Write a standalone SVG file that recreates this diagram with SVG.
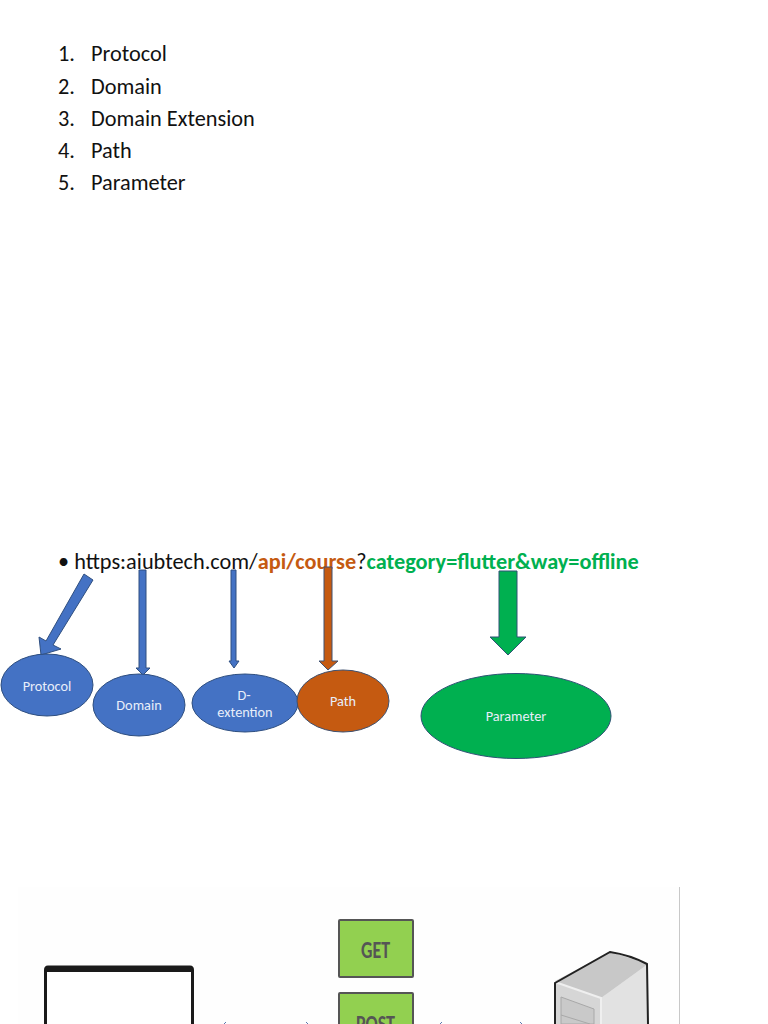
<svg xmlns="http://www.w3.org/2000/svg" width="768" height="1024" viewBox="0 0 768 1024">
<style>
text{font-family:"Carlito","Lato","Liberation Sans",sans-serif}
.l{font-size:22.3px;fill:#111}
.u{font-size:22.3px}
.n{font-size:14.3px;fill:#e8eefa;text-anchor:middle}
.bl{fill:#4472c4;stroke:#2f4f80;stroke-width:1}
.or{fill:#c55a11;stroke:#3f5170;stroke-width:1}
.gr{fill:#00b050;stroke:#2f5275;stroke-width:1}
.btn{fill:#92d050;stroke:#555;stroke-width:2}
.bt{font-size:25px;font-weight:bold;fill:#555;text-anchor:middle}
.tick{fill:none;stroke:#5a78b0;stroke-width:1}
</style>
<rect width="768" height="1024" fill="#fff"/>
<g id="list">
<text class="l" x="58" y="61">1.</text><text class="l" x="91" y="61">Protocol</text>
<text class="l" x="58" y="94">2.</text><text class="l" x="91" y="94">Domain</text>
<text class="l" x="58" y="126">3.</text><text class="l" x="91" y="126">Domain Extension</text>
<text class="l" x="58" y="158">4.</text><text class="l" x="91" y="158">Path</text>
<text class="l" x="58" y="190">5.</text><text class="l" x="91" y="190">Parameter</text>
</g>
<g id="url"><text class="u" x="58" y="569" fill="#111">• https:aiubtech.com/<tspan fill="#c55a11" font-weight="bold">api/course</tspan>?<tspan fill="#00b050" font-weight="bold">category=flutter&amp;way=offline</tspan></text></g>
<g id="connectors">
<polygon class="bl" points="84,574 93,580 53,645 61,649 41,655 39,637 46,641"/>
<polygon class="bl" points="139,570 146,570 146,668 150,668 143,675 136,668 139,668"/>
<polygon class="bl" points="231,570 236,570 236,661 239,661 234,668 229,661 231,661"/>
<polygon class="or" points="324,567 332,567 332,661 338,661 328,670 319,661 324,661"/>
<polygon class="gr" points="499,571 517,571 517,637 526,637 508,655 490,637 499,637"/>
</g>
<g id="protocol"><ellipse class="bl" cx="47" cy="685" rx="46" ry="31"/><text class="n" x="47" y="691">Protocol</text></g>
<g id="domain"><ellipse class="bl" cx="139" cy="705" rx="46" ry="31"/><text class="n" x="139" y="710">Domain</text></g>
<g id="d-extention"><ellipse class="bl" cx="245" cy="703" rx="53" ry="29"/><text class="n" x="244" y="700">D-</text><text class="n" x="245" y="717">extention</text></g>
<g id="path"><ellipse class="or" cx="343" cy="701" rx="46" ry="31"/><text class="n" x="343" y="706">Path</text></g>
<g id="parameter"><ellipse class="gr" cx="516" cy="716" rx="95" ry="42.5"/><text class="n" x="516" y="721">Parameter</text></g>
<g id="picture">
<rect x="18" y="887" width="662" height="137" fill="#fefefe"/>
<path d="M679.5 887V1024" stroke="#c8c8c8" fill="none"/>
<path d="M45.500 1024V970Q45.500 967 48 967H190Q192.500 967 192.500 970V1024" fill="#fff" stroke="#1a1a1a" stroke-width="3"/>
<path d="M46 969.500H192" stroke="#1a1a1a" stroke-width="5"/>
<g id="get"><rect class="btn" x="339" y="920" width="74" height="57" rx="1"/><text class="bt" x="375.500" y="958" textLength="29" lengthAdjust="spacingAndGlyphs">GET</text></g>
<g id="post"><rect class="btn" x="339" y="993" width="74" height="57" rx="1"/><text class="bt" x="375.500" y="1032" textLength="39" lengthAdjust="spacingAndGlyphs">POST</text></g>
<g id="server">
<polygon points="555,981 610,952 648,964 648,1024 555,1024" fill="#d6d6d6"/>
<polygon points="555,982 610,952 648,964 601,998" fill="#c8c8c8"/>
<polygon points="601,998 648,964 648,1024 601,1024" fill="#e2e2e2"/>
<path d="M555 982L601 998V1024" fill="none" stroke="#efefef" stroke-width="2"/>
<path d="M561 997L594 1009V1024H561Z M561 1015L590 1024" fill="#c9c9c9" stroke="#a8a8a8"/>
<path d="M555 1024V983L610 952Q630 955 647 964L648 1024" fill="none" stroke="#222" stroke-width="2"/>
</g>
<path class="tick" d="M224 1024L226 1022M306 1022L308 1024M440 1024L442 1022M520 1022L522 1024"/>
</g>
</svg>
